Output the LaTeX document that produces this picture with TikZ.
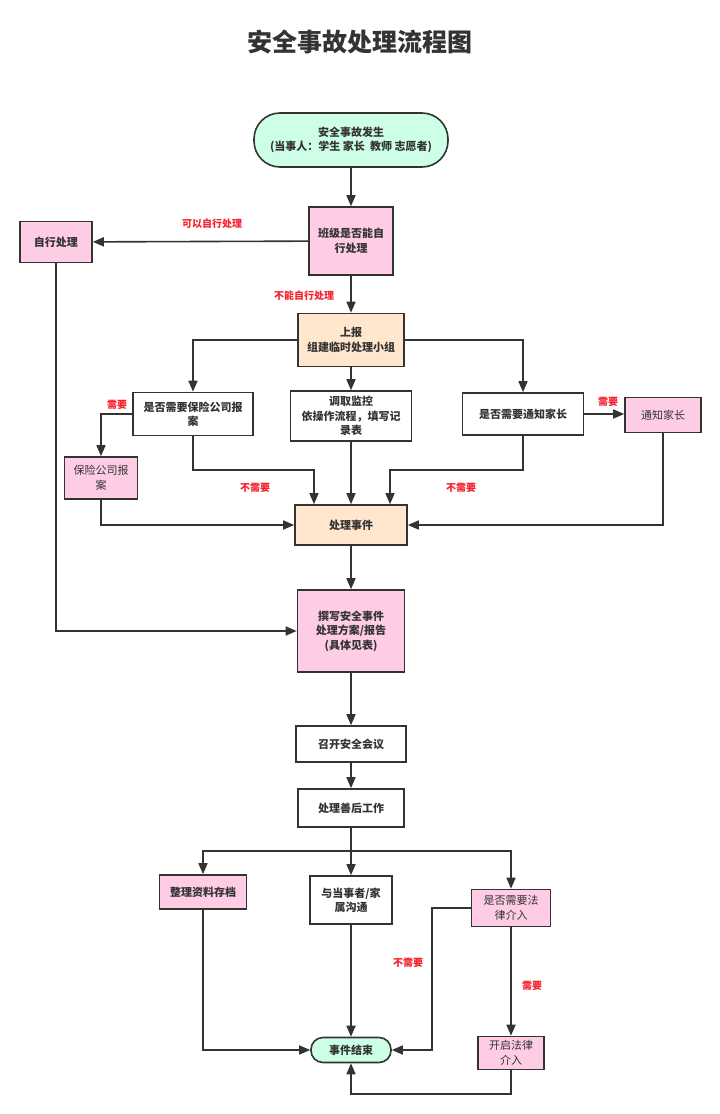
\documentclass[tikz,border=0pt]{standalone}
\usepackage{fontspec}
\setmainfont{Noto Sans CJK SC}
\usetikzlibrary{arrows.meta}
\definecolor{mint}{HTML}{CCFFE6}
\definecolor{pinkf}{HTML}{FFCCE6}
\definecolor{peach}{HTML}{FFE6CC}
\definecolor{linec}{HTML}{333333}
\definecolor{redl}{HTML}{F5222D}
\begin{document}
\begin{tikzpicture}[x=1pt,y=-1pt,
  box/.style={draw=linec, line width=1.6pt, fill=white, align=center, text=linec,
    font=\fontsize{11}{14.5}\selectfont\bfseries, inner sep=2pt},
  thin/.style={font=\fontsize{11}{14.5}\selectfont},
  term/.style={box, fill=mint},
  pinkbox/.style={box, fill=pinkf},
  peachbox/.style={box, fill=peach},
  arr/.style={draw=linec, line width=1.6pt, -{Triangle[length=11pt,width=9pt]}},
  lab/.style={text=redl, font=\fontsize{10}{12}\selectfont\bfseries, inner sep=1pt}
]
\useasboundingbox (0,0) rectangle (720,1114);
\node[text=linec, font=\fontsize{25}{30}\selectfont\bfseries] (title) at (360,42) {安全事故处理流程图};

\node[term, rounded corners=26pt, minimum width=194pt, minimum height=54pt] (start) at (351,140) {安全事故发生\\(当事人：学生 家长\ \ 教师 志愿者)};
\node[pinkbox, minimum width=84pt, minimum height=68pt] (ban) at (351,241) {班级是否能自\\行处理};
\node[pinkbox, minimum width=72pt, minimum height=41pt] (zixing) at (56,242) {自行处理};
\node[peachbox, minimum width=106pt, minimum height=53pt] (shangbao) at (351,340) {上报\\组建临时处理小组};
\node[box, minimum width=120pt, minimum height=43pt] (baoxian) at (193,414) {是否需要保险公司报\\案};
\node[box, minimum width=121pt, minimum height=50pt] (jiankong) at (351,416) {调取监控\\依操作流程，填写记\\录表};
\node[box, minimum width=121pt, minimum height=42pt] (tongzhiq) at (523,414) {是否需要通知家长};
\node[pinkbox, thin, minimum width=76pt, minimum height=35pt] (tongzhi) at (663,415) {通知家长};
\node[pinkbox, thin, minimum width=73pt, minimum height=42pt] (baoxianA) at (101,478) {保险公司报\\案};
\node[peachbox, minimum width=112pt, minimum height=40pt] (chuli) at (351,525) {处理事件};
\node[pinkbox, minimum width=107pt, minimum height=82pt] (zhuanxie) at (351,631) {撰写安全事件\\处理方案/报告\\(具体见表)};
\node[box, minimum width=110pt, minimum height=36pt] (zhaokai) at (351,744) {召开安全会议};
\node[box, minimum width=106pt, minimum height=38pt] (shanhou) at (351,808) {处理善后工作};
\node[pinkbox, minimum width=87pt, minimum height=34pt] (zhengli) at (203,892) {整理资料存档};
\node[box, minimum width=82pt, minimum height=48pt] (goutong) at (351,900) {与当事者/家\\属沟通};
\node[pinkbox, thin, minimum width=79pt, minimum height=37pt] (falv) at (511,908) {是否需要法\\律介入};
\node[pinkbox, thin, minimum width=66pt, minimum height=33pt] (kaiqi) at (511,1053) {开启法律\\介入};
\node[term, rounded corners=12pt, minimum width=80pt, minimum height=25pt] (end) at (351,1050) {事件结束};

\coordinate (yr) at (0,470);
\coordinate (ys) at (0,851);
\coordinate (yb) at (0,1094);
\coordinate (xl) at (432,0);

\draw[arr] (start) -- (ban);
\draw[arr] (ban) -- (zixing);
\draw[arr] (ban) -- (shangbao);
\draw[arr] (shangbao.west) -| (baoxian.north);
\draw[arr] (shangbao) -- (jiankong);
\draw[arr] (shangbao.east) -| (tongzhiq.north);
\draw[arr] (tongzhiq.east) -- (tongzhiq.east -| tongzhi.west);
\draw[arr] (baoxian.west) -| (baoxianA.north);
\draw[arr] (baoxian.south) -- (baoxian.south |- yr) -| ([xshift=-37pt]chuli.north);
\draw[arr] (jiankong) -- (chuli);
\draw[arr] (tongzhiq.south) -- (tongzhiq.south |- yr) -| ([xshift=39pt]chuli.north);
\draw[arr] (baoxianA.south) |- (chuli.west);
\draw[arr] (tongzhi.south) |- (chuli.east);
\draw[arr] (chuli) -- (zhuanxie);
\draw[arr] (zixing.south) |- (zhuanxie.west);
\draw[arr] (zhuanxie) -- (zhaokai);
\draw[arr] (zhaokai) -- (shanhou);
\draw[arr] (shanhou) -- (goutong);
\draw[arr] (shanhou.south |- ys) -| (zhengli.north);
\draw[arr] (shanhou.south |- ys) -| (falv.north);
\draw[arr] (zhengli.south) |- (end.west);
\draw[arr] (goutong) -- (end);
\draw[arr] (falv.west) -- (falv.west -| xl) |- (end.east);
\draw[arr] (falv) -- (kaiqi);
\draw[arr] (kaiqi.south) -- (kaiqi.south |- yb) -| (end.south);

\node[lab] (l1) at (212,224) {可以自行处理};
\node[lab] (l2) at (304,296) {不能自行处理};
\node[lab] (l3) at (117,405) {需要};
\node[lab] (l4) at (608,402) {需要};
\node[lab] (l5) at (255,488) {不需要};
\node[lab] (l6) at (461,488) {不需要};
\node[lab] (l7) at (408,963) {不需要};
\node[lab] (l8) at (532,986) {需要};
\end{tikzpicture}
\end{document}
